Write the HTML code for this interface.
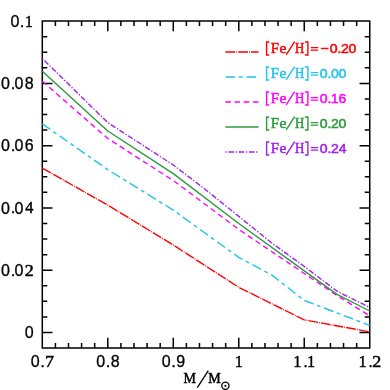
<!DOCTYPE html>
<html><head><meta charset="utf-8"><title>plot</title>
<style>html,body{margin:0;padding:0;background:#fff;}svg{display:block;will-change:transform;}text{white-space:pre;}</style>
</head><body>
<svg width="390" height="390" viewBox="0 0 390 390">
<rect x="0" y="0" width="390" height="390" fill="#fff"/>
<path fill="#000" d="M41.55 20.35H370.50V21.85H41.55ZM41.55 347.30H370.50V348.80H41.55ZM41.55 20.35H43.05V348.80H41.55ZM369.00 20.35H370.50V348.80H369.00ZM54.65 343.05H56.15V348.05H54.65ZM54.65 21.10H56.15V26.10H54.65ZM67.75 343.05H69.25V348.05H67.75ZM67.75 21.10H69.25V26.10H67.75ZM80.84 343.05H82.34V348.05H80.84ZM80.84 21.10H82.34V26.10H80.84ZM93.94 343.05H95.44V348.05H93.94ZM93.94 21.10H95.44V26.10H93.94ZM107.04 337.85H108.54V348.05H107.04ZM107.04 21.10H108.54V31.30H107.04ZM120.14 343.05H121.64V348.05H120.14ZM120.14 21.10H121.64V26.10H120.14ZM133.24 343.05H134.74V348.05H133.24ZM133.24 21.10H134.74V26.10H133.24ZM146.33 343.05H147.83V348.05H146.33ZM146.33 21.10H147.83V26.10H146.33ZM159.43 343.05H160.93V348.05H159.43ZM159.43 21.10H160.93V26.10H159.43ZM172.53 337.85H174.03V348.05H172.53ZM172.53 21.10H174.03V31.30H172.53ZM185.63 343.05H187.13V348.05H185.63ZM185.63 21.10H187.13V26.10H185.63ZM198.73 343.05H200.23V348.05H198.73ZM198.73 21.10H200.23V26.10H198.73ZM211.82 343.05H213.32V348.05H211.82ZM211.82 21.10H213.32V26.10H211.82ZM224.92 343.05H226.42V348.05H224.92ZM224.92 21.10H226.42V26.10H224.92ZM238.02 337.85H239.52V348.05H238.02ZM238.02 21.10H239.52V31.30H238.02ZM251.12 343.05H252.62V348.05H251.12ZM251.12 21.10H252.62V26.10H251.12ZM264.22 343.05H265.72V348.05H264.22ZM264.22 21.10H265.72V26.10H264.22ZM277.31 343.05H278.81V348.05H277.31ZM277.31 21.10H278.81V26.10H277.31ZM290.41 343.05H291.91V348.05H290.41ZM290.41 21.10H291.91V26.10H290.41ZM303.51 337.85H305.01V348.05H303.51ZM303.51 21.10H305.01V31.30H303.51ZM316.61 343.05H318.11V348.05H316.61ZM316.61 21.10H318.11V26.10H316.61ZM329.71 343.05H331.21V348.05H329.71ZM329.71 21.10H331.21V26.10H329.71ZM342.80 343.05H344.30V348.05H342.80ZM342.80 21.10H344.30V26.10H342.80ZM355.90 343.05H357.40V348.05H355.90ZM355.90 21.10H357.40V26.10H355.90ZM42.30 331.73H52.50V333.23H42.30ZM359.55 331.73H369.75V333.23H359.55ZM42.30 316.16H47.30V317.66H42.30ZM364.75 316.16H369.75V317.66H364.75ZM42.30 300.59H47.30V302.09H42.30ZM364.75 300.59H369.75V302.09H364.75ZM42.30 285.02H47.30V286.52H42.30ZM364.75 285.02H369.75V286.52H364.75ZM42.30 269.45H52.50V270.95H42.30ZM359.55 269.45H369.75V270.95H359.55ZM42.30 253.89H47.30V255.39H42.30ZM364.75 253.89H369.75V255.39H364.75ZM42.30 238.32H47.30V239.82H42.30ZM364.75 238.32H369.75V239.82H364.75ZM42.30 222.75H47.30V224.25H42.30ZM364.75 222.75H369.75V224.25H364.75ZM42.30 207.18H52.50V208.68H42.30ZM359.55 207.18H369.75V208.68H359.55ZM42.30 191.61H47.30V193.11H42.30ZM364.75 191.61H369.75V193.11H364.75ZM42.30 176.04H47.30V177.54H42.30ZM364.75 176.04H369.75V177.54H364.75ZM42.30 160.47H47.30V161.97H42.30ZM364.75 160.47H369.75V161.97H364.75ZM42.30 144.90H52.50V146.40H42.30ZM359.55 144.90H369.75V146.40H359.55ZM42.30 129.33H47.30V130.83H42.30ZM364.75 129.33H369.75V130.83H364.75ZM42.30 113.76H47.30V115.26H42.30ZM364.75 113.76H369.75V115.26H364.75ZM42.30 98.20H47.30V99.70H42.30ZM364.75 98.20H369.75V99.70H364.75ZM42.30 82.63H52.50V84.13H42.30ZM359.55 82.63H369.75V84.13H359.55ZM42.30 67.06H47.30V68.56H42.30ZM364.75 67.06H369.75V68.56H364.75ZM42.30 51.49H47.30V52.99H42.30ZM364.75 51.49H369.75V52.99H364.75ZM42.30 35.92H47.30V37.42H42.30ZM364.75 35.92H369.75V37.42H364.75Z"/>
<g fill="none" stroke-width="1.4" stroke-linejoin="round">
<path d="M42.30 168.07 L107.79 205.13 L173.28 244.98 L238.77 287.33 L304.26 319.87 L369.75 331.86" stroke="#ff0000" stroke-dasharray="9.8 1.05 0.85 1.1"/>
<path d="M42.30 123.86 L107.79 169.63 L173.28 210.11 L238.77 257.44 L271.52 274.88 L304.26 300.41 L369.75 325.47" stroke="#1fc4ea" stroke-dasharray="9.7 3.8 3.8 3.8"/>
<path d="M42.30 81.20 L107.79 138.49 L173.28 180.53 L238.77 229.41 L304.26 273.47 L337.00 295.49 L369.75 315.82" stroke="#ff00ff" stroke-dasharray="5.5 3.7"/>
<path d="M42.30 71.23 L107.79 131.02 L173.28 173.68 L238.77 223.50 L304.26 270.83 L337.00 294.37 L369.75 311.00" stroke="#2a9a3c"/>
<path d="M42.30 58.47 L107.79 122.61 L173.28 164.96 L206.02 190.02 L238.77 216.34 L271.52 242.80 L304.26 266.47 L337.00 291.16 L369.75 307.57" stroke="#a020f0" stroke-dasharray="1.3 1.75 5.5 1.7"/>
</g>
<g>
<text x="0.90" y="88.98" font-family="Liberation Sans" font-weight="normal" font-size="16.0" fill="#000" stroke="#000" stroke-width="0.3" stroke-linejoin="round">0</text><text transform="scale(1.05,1)" x="10.16" y="88.93" font-family="Liberation Sans" font-weight="normal" font-size="16.0" fill="#000" stroke="#000" stroke-width="0.3" stroke-linejoin="round">.</text><text x="14.50" y="88.98" font-family="Liberation Sans" font-weight="normal" font-size="16.0" fill="#000" stroke="#000" stroke-width="0.3" stroke-linejoin="round">0</text><text x="24.80" y="88.98" font-family="Liberation Sans" font-weight="normal" font-size="16.0" fill="#000" stroke="#000" stroke-width="0.3" stroke-linejoin="round">8</text>
<text x="0.90" y="151.25" font-family="Liberation Sans" font-weight="normal" font-size="16.0" fill="#000" stroke="#000" stroke-width="0.3" stroke-linejoin="round">0</text><text transform="scale(1.05,1)" x="10.16" y="151.20" font-family="Liberation Sans" font-weight="normal" font-size="16.0" fill="#000" stroke="#000" stroke-width="0.3" stroke-linejoin="round">.</text><text x="14.50" y="151.25" font-family="Liberation Sans" font-weight="normal" font-size="16.0" fill="#000" stroke="#000" stroke-width="0.3" stroke-linejoin="round">0</text><text x="24.75" y="151.25" font-family="Liberation Sans" font-weight="normal" font-size="16.0" fill="#000" stroke="#000" stroke-width="0.3" stroke-linejoin="round">6</text>
<text x="0.90" y="213.53" font-family="Liberation Sans" font-weight="normal" font-size="16.0" fill="#000" stroke="#000" stroke-width="0.3" stroke-linejoin="round">0</text><text transform="scale(1.05,1)" x="10.16" y="213.48" font-family="Liberation Sans" font-weight="normal" font-size="16.0" fill="#000" stroke="#000" stroke-width="0.3" stroke-linejoin="round">.</text><text x="14.50" y="213.53" font-family="Liberation Sans" font-weight="normal" font-size="16.0" fill="#000" stroke="#000" stroke-width="0.3" stroke-linejoin="round">0</text><text transform="scale(0.97,1)" x="25.95" y="213.48" font-family="Liberation Serif" font-weight="normal" font-size="16.7" fill="#000" stroke="#000" stroke-width="0.5" stroke-linejoin="round">4</text>
<text x="0.90" y="275.80" font-family="Liberation Sans" font-weight="normal" font-size="16.0" fill="#000" stroke="#000" stroke-width="0.3" stroke-linejoin="round">0</text><text transform="scale(1.05,1)" x="10.16" y="275.75" font-family="Liberation Sans" font-weight="normal" font-size="16.0" fill="#000" stroke="#000" stroke-width="0.3" stroke-linejoin="round">.</text><text x="14.50" y="275.80" font-family="Liberation Sans" font-weight="normal" font-size="16.0" fill="#000" stroke="#000" stroke-width="0.3" stroke-linejoin="round">0</text><text transform="scale(1.08,1)" x="23.00" y="275.75" font-family="Liberation Serif" font-weight="normal" font-size="16.7" fill="#000" stroke="#000" stroke-width="0.5" stroke-linejoin="round">2</text>
<text x="10.55" y="26.70" font-family="Liberation Sans" font-weight="normal" font-size="16.0" fill="#000" stroke="#000" stroke-width="0.3" stroke-linejoin="round">0</text><text transform="scale(1.05,1)" x="18.73" y="26.65" font-family="Liberation Sans" font-weight="normal" font-size="16.0" fill="#000" stroke="#000" stroke-width="0.3" stroke-linejoin="round">.</text><text transform="scale(0.98,1)" x="25.24" y="26.65" font-family="Liberation Serif" font-weight="normal" font-size="16.7" fill="#000" stroke="#000" stroke-width="0.4" stroke-linejoin="round">1</text>
<text x="24.75" y="338.08" font-family="Liberation Sans" font-weight="normal" font-size="16.0" fill="#000" stroke="#000" stroke-width="0.3" stroke-linejoin="round">0</text>
<text x="30.70" y="367.15" font-family="Liberation Sans" font-weight="normal" font-size="16.0" fill="#000" stroke="#000" stroke-width="0.3" stroke-linejoin="round">0</text><text transform="scale(1.05,1)" x="38.30" y="367.10" font-family="Liberation Sans" font-weight="normal" font-size="16.0" fill="#000" stroke="#000" stroke-width="0.3" stroke-linejoin="round">.</text><text transform="scale(1.08,1)" x="41.58" y="367.10" font-family="Liberation Serif" font-weight="normal" font-size="16.7" fill="#000" stroke="#000" stroke-width="0.5" stroke-linejoin="round">7</text>
<text x="96.19" y="367.15" font-family="Liberation Sans" font-weight="normal" font-size="16.0" fill="#000" stroke="#000" stroke-width="0.3" stroke-linejoin="round">0</text><text transform="scale(1.05,1)" x="100.67" y="367.10" font-family="Liberation Sans" font-weight="normal" font-size="16.0" fill="#000" stroke="#000" stroke-width="0.3" stroke-linejoin="round">.</text><text x="110.79" y="367.15" font-family="Liberation Sans" font-weight="normal" font-size="16.0" fill="#000" stroke="#000" stroke-width="0.3" stroke-linejoin="round">8</text>
<text x="161.68" y="367.15" font-family="Liberation Sans" font-weight="normal" font-size="16.0" fill="#000" stroke="#000" stroke-width="0.3" stroke-linejoin="round">0</text><text transform="scale(1.05,1)" x="163.04" y="367.10" font-family="Liberation Sans" font-weight="normal" font-size="16.0" fill="#000" stroke="#000" stroke-width="0.3" stroke-linejoin="round">.</text><text x="176.28" y="367.15" font-family="Liberation Sans" font-weight="normal" font-size="16.0" fill="#000" stroke="#000" stroke-width="0.3" stroke-linejoin="round">9</text>
<text transform="scale(0.98,1)" x="239.52" y="367.10" font-family="Liberation Serif" font-weight="normal" font-size="16.7" fill="#000" stroke="#000" stroke-width="0.4" stroke-linejoin="round">1</text>
<text transform="scale(0.98,1)" x="299.22" y="367.10" font-family="Liberation Serif" font-weight="normal" font-size="16.7" fill="#000" stroke="#000" stroke-width="0.4" stroke-linejoin="round">1</text><text transform="scale(1.05,1)" x="288.82" y="367.10" font-family="Liberation Sans" font-weight="normal" font-size="16.0" fill="#000" stroke="#000" stroke-width="0.3" stroke-linejoin="round">.</text><text transform="scale(0.98,1)" x="313.25" y="367.10" font-family="Liberation Serif" font-weight="normal" font-size="16.7" fill="#000" stroke="#000" stroke-width="0.4" stroke-linejoin="round">1</text>
<text transform="scale(0.98,1)" x="365.95" y="367.10" font-family="Liberation Serif" font-weight="normal" font-size="16.7" fill="#000" stroke="#000" stroke-width="0.4" stroke-linejoin="round">1</text><text transform="scale(1.05,1)" x="350.73" y="367.10" font-family="Liberation Sans" font-weight="normal" font-size="16.0" fill="#000" stroke="#000" stroke-width="0.3" stroke-linejoin="round">.</text><text transform="scale(1.08,1)" x="344.72" y="367.10" font-family="Liberation Serif" font-weight="normal" font-size="16.7" fill="#000" stroke="#000" stroke-width="0.5" stroke-linejoin="round">2</text>
</g>
<g fill="#000">
<text transform="scale(0.9,1)" x="203.85" y="382.70" font-family="Liberation Serif" font-weight="normal" font-size="15.6" fill="#000" stroke="#000" stroke-width="0.5" stroke-linejoin="round">M</text>
<text transform="scale(0.9,1)" x="231.51" y="382.70" font-family="Liberation Serif" font-weight="normal" font-size="15.6" fill="#000" stroke="#000" stroke-width="0.5" stroke-linejoin="round">M</text>
<path d="M197.3 387.6 L208.3 370.6" stroke="#000" stroke-width="1.3" fill="none"/>
<circle cx="225.4" cy="385.8" r="3.6" stroke="#000" stroke-width="1.3" fill="none"/>
<circle cx="225.4" cy="385.8" r="1.1" fill="#000"/>
</g>
<path d="M225.4 52.0 H258.5" stroke="#ff0000" stroke-width="1.4" fill="none" stroke-dasharray="9.8 1.05 0.85 1.1"/>
<path d="M269.3 42.0 H266.6 V55.0 H269.3 M304.9 42.0 H307.9 V55.0 H304.9 M286.2 54.9 L294.6 41.6" stroke="#ff0000" stroke-width="1.4" fill="none"/>
<text transform="scale(1.08,1)" x="250.59" y="52.55" font-family="Liberation Serif" font-weight="normal" font-size="13.7" fill="#ff0000" stroke="#ff0000" stroke-width="0.5" stroke-linejoin="round">F</text>
<text transform="scale(1.13,1)" x="247.37" y="52.55" font-family="Liberation Serif" font-weight="normal" font-size="13.7" fill="#ff0000" stroke="#ff0000" stroke-width="0.5" stroke-linejoin="round">e</text>
<text transform="scale(0.94,1)" x="313.78" y="52.55" font-family="Liberation Serif" font-weight="normal" font-size="13.7" fill="#ff0000" stroke="#ff0000" stroke-width="0.5" stroke-linejoin="round">H</text>
<path d="M310.8 47.7 H318.2 M310.8 50.2 H318.2" stroke="#ff0000" stroke-width="1.25" fill="none"/>
<text transform="scale(1.1,1)" x="291.38" y="52.75" font-family="Liberation Sans" font-weight="normal" font-size="13.0" fill="#ff0000" stroke="#ff0000" stroke-width="0.5" stroke-linejoin="round">−</text>
<text transform="scale(1.08,1)" x="305.23 312.41 315.74 322.73" y="52.75" font-family="Liberation Sans" font-weight="normal" font-size="13.0" fill="#ff0000" stroke="#ff0000" stroke-width="0.5" stroke-linejoin="round">0.20</text>
<path d="M225.4 77.0 H258.5" stroke="#1fc4ea" stroke-width="1.4" fill="none" stroke-dasharray="9.7 3.8 3.8 3.8"/>
<path d="M269.3 67.0 H266.6 V80.0 H269.3 M304.9 67.0 H307.9 V80.0 H304.9 M286.2 79.9 L294.6 66.6" stroke="#1fc4ea" stroke-width="1.4" fill="none"/>
<text transform="scale(1.08,1)" x="250.59" y="77.55" font-family="Liberation Serif" font-weight="normal" font-size="13.7" fill="#1fc4ea" stroke="#1fc4ea" stroke-width="0.5" stroke-linejoin="round">F</text>
<text transform="scale(1.13,1)" x="247.37" y="77.55" font-family="Liberation Serif" font-weight="normal" font-size="13.7" fill="#1fc4ea" stroke="#1fc4ea" stroke-width="0.5" stroke-linejoin="round">e</text>
<text transform="scale(0.94,1)" x="313.78" y="77.55" font-family="Liberation Serif" font-weight="normal" font-size="13.7" fill="#1fc4ea" stroke="#1fc4ea" stroke-width="0.5" stroke-linejoin="round">H</text>
<path d="M310.8 72.7 H318.2 M310.8 75.2 H318.2" stroke="#1fc4ea" stroke-width="1.25" fill="none"/>
<text transform="scale(1.08,1)" x="296.01 303.19 306.52 313.51" y="77.75" font-family="Liberation Sans" font-weight="normal" font-size="13.0" fill="#1fc4ea" stroke="#1fc4ea" stroke-width="0.5" stroke-linejoin="round">0.00</text>
<path d="M225.4 102.0 H258.5" stroke="#ff00ff" stroke-width="1.4" fill="none" stroke-dasharray="5.5 3.7"/>
<path d="M269.3 92.0 H266.6 V105.0 H269.3 M304.9 92.0 H307.9 V105.0 H304.9 M286.2 104.9 L294.6 91.6" stroke="#ff00ff" stroke-width="1.4" fill="none"/>
<text transform="scale(1.08,1)" x="250.59" y="102.55" font-family="Liberation Serif" font-weight="normal" font-size="13.7" fill="#ff00ff" stroke="#ff00ff" stroke-width="0.5" stroke-linejoin="round">F</text>
<text transform="scale(1.13,1)" x="247.37" y="102.55" font-family="Liberation Serif" font-weight="normal" font-size="13.7" fill="#ff00ff" stroke="#ff00ff" stroke-width="0.5" stroke-linejoin="round">e</text>
<text transform="scale(0.94,1)" x="313.78" y="102.55" font-family="Liberation Serif" font-weight="normal" font-size="13.7" fill="#ff00ff" stroke="#ff00ff" stroke-width="0.5" stroke-linejoin="round">H</text>
<path d="M310.8 97.7 H318.2 M310.8 100.2 H318.2" stroke="#ff00ff" stroke-width="1.25" fill="none"/>
<text transform="scale(1.08,1)" x="296.01 303.19 306.35 313.47" y="102.75" font-family="Liberation Sans" font-weight="normal" font-size="13.0" fill="#ff00ff" stroke="#ff00ff" stroke-width="0.5" stroke-linejoin="round">0.16</text>
<path d="M225.4 127.0 H258.5" stroke="#2a9a3c" stroke-width="1.4" fill="none"/>
<path d="M269.3 117.0 H266.6 V130.0 H269.3 M304.9 117.0 H307.9 V130.0 H304.9 M286.2 129.9 L294.6 116.6" stroke="#2a9a3c" stroke-width="1.4" fill="none"/>
<text transform="scale(1.08,1)" x="250.59" y="127.55" font-family="Liberation Serif" font-weight="normal" font-size="13.7" fill="#2a9a3c" stroke="#2a9a3c" stroke-width="0.5" stroke-linejoin="round">F</text>
<text transform="scale(1.13,1)" x="247.37" y="127.55" font-family="Liberation Serif" font-weight="normal" font-size="13.7" fill="#2a9a3c" stroke="#2a9a3c" stroke-width="0.5" stroke-linejoin="round">e</text>
<text transform="scale(0.94,1)" x="313.78" y="127.55" font-family="Liberation Serif" font-weight="normal" font-size="13.7" fill="#2a9a3c" stroke="#2a9a3c" stroke-width="0.5" stroke-linejoin="round">H</text>
<path d="M310.8 122.7 H318.2 M310.8 125.2 H318.2" stroke="#2a9a3c" stroke-width="1.25" fill="none"/>
<text transform="scale(1.08,1)" x="296.01 303.19 306.52 313.51" y="127.75" font-family="Liberation Sans" font-weight="normal" font-size="13.0" fill="#2a9a3c" stroke="#2a9a3c" stroke-width="0.5" stroke-linejoin="round">0.20</text>
<path d="M225.4 152.0 H258.5" stroke="#a020f0" stroke-width="1.4" fill="none" stroke-dasharray="1.3 1.75 5.5 1.7"/>
<path d="M269.3 142.0 H266.6 V155.0 H269.3 M304.9 142.0 H307.9 V155.0 H304.9 M286.2 154.9 L294.6 141.6" stroke="#a020f0" stroke-width="1.4" fill="none"/>
<text transform="scale(1.08,1)" x="250.59" y="152.55" font-family="Liberation Serif" font-weight="normal" font-size="13.7" fill="#a020f0" stroke="#a020f0" stroke-width="0.5" stroke-linejoin="round">F</text>
<text transform="scale(1.13,1)" x="247.37" y="152.55" font-family="Liberation Serif" font-weight="normal" font-size="13.7" fill="#a020f0" stroke="#a020f0" stroke-width="0.5" stroke-linejoin="round">e</text>
<text transform="scale(0.94,1)" x="313.78" y="152.55" font-family="Liberation Serif" font-weight="normal" font-size="13.7" fill="#a020f0" stroke="#a020f0" stroke-width="0.5" stroke-linejoin="round">H</text>
<path d="M310.8 147.7 H318.2 M310.8 150.2 H318.2" stroke="#a020f0" stroke-width="1.25" fill="none"/>
<text transform="scale(1.08,1)" x="296.01 303.19 306.52 313.56" y="152.75" font-family="Liberation Sans" font-weight="normal" font-size="13.0" fill="#a020f0" stroke="#a020f0" stroke-width="0.5" stroke-linejoin="round">0.24</text>
</svg>
</body></html>
